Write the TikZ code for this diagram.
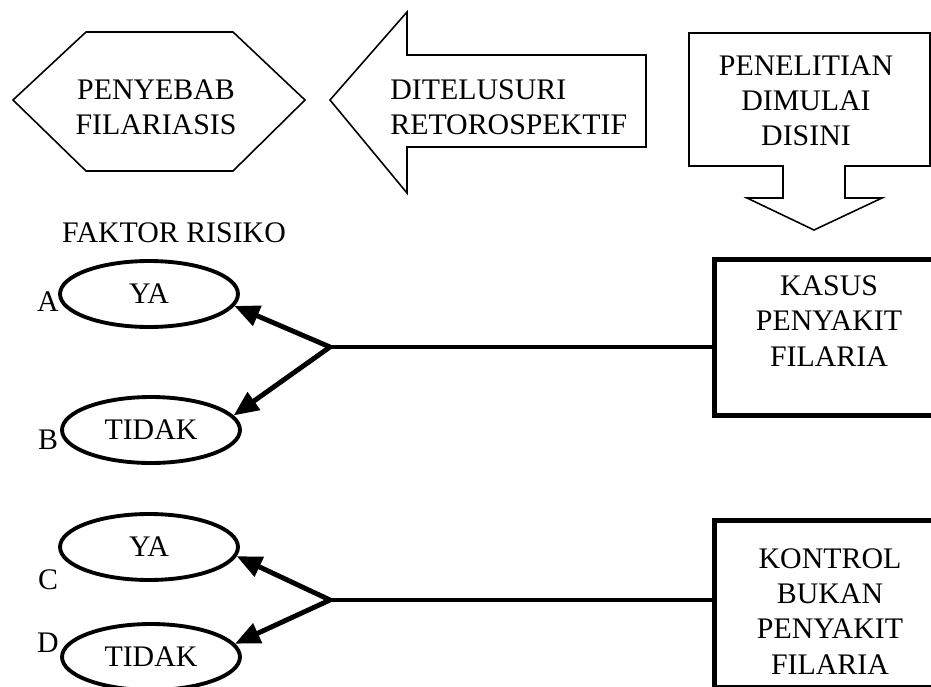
\documentclass[tikz,border=0pt]{standalone}
\usepackage{fontspec}
\setmainfont{Liberation Serif}
\usetikzlibrary{shapes.geometric,arrows.meta,positioning}

\begin{document}
\begin{tikzpicture}[x=0.02cm, y=-0.02cm,
    every node/.style={font=\fontsize{17}{20}\selectfont, inner sep=0pt},
    thinline/.style={line width=0.9pt},
    factor/.style={ellipse, draw, line width=2.2pt, minimum width=3.56cm, minimum height=1.32cm},
    groupbox/.style={draw, line width=2.6pt, minimum width=4.46cm, anchor=north west},
    link/.style={line width=2.8pt},
    pointer/.style={link, -{Triangle[length=0.5cm,width=0.42cm]}}]
  \useasboundingbox (0,0) rectangle (931,687);
  \clip (0,0) rectangle (931,687);

  \draw[thinline] (13,100) -- (86,32) -- (233,32) -- (305,100) -- (233,171) -- (86,171) -- cycle;
  \node[align=center] (penyebab) at (156,107.5) {PENYEBAB\\FILARIASIS};

  \draw[thinline] (330,100) -- (407,12) -- (407,55) -- (646,55) -- (646,147) -- (407,147) -- (407,193) -- cycle;
  \node[align=left, anchor=west] (ditelusuri) at (390,107.5) {DITELUSURI\\RETOROSPEKTIF};

  \draw[thinline] (689,33) -- (930,33) -- (930,166) -- (845,166) -- (845,198) -- (882,198) -- (814,230)
    -- (747,198) -- (783,198) -- (783,166) -- (689,166) -- cycle;
  \node[align=center] (penelitian) at (806,101) {PENELITIAN\\DIMULAI\\DISINI};

  \node (faktor) at (174,233) {FAKTOR RISIKO};

  \node[factor] (yaA) at (149,294) {YA};
  \node[factor] (tidakB) at (151,430) {TIDAK};
  \node[factor] (yaC) at (149,547) {YA};
  \node[factor] (tidakD) at (151,657) {TIDAK};
  \foreach \l/\y in {A/302,B/440,C/580,D/643}
    \node (label\l) at (48,\y) {\l};

  \node[groupbox, minimum height=3.12cm] (kasus) at (712,257) {};
  \node[align=center] (kasusText) at (829,321) {KASUS\\PENYAKIT\\FILARIA};
  \node[groupbox, minimum height=3.34cm] (kontrol) at (712,518) {};
  \node[align=center] (kontrolText) at (830,611.5) {KONTROL\\BUKAN\\PENYAKIT\\FILARIA};

  \coordinate (splitA) at (330,347);
  \coordinate (splitC) at (330,600);
  \draw[link] (kasus.west |- splitA) -- (splitA);
  \draw[pointer] (splitA) -- (yaA.-8);
  \draw[pointer] (splitA) -- (tidakB.10);
  \draw[link] (kontrol.west |- splitC) -- (splitC);
  \draw[pointer] (splitC) -- (yaC.-6);
  \draw[pointer] (splitC) -- (tidakD.9);
\end{tikzpicture}
\end{document}
